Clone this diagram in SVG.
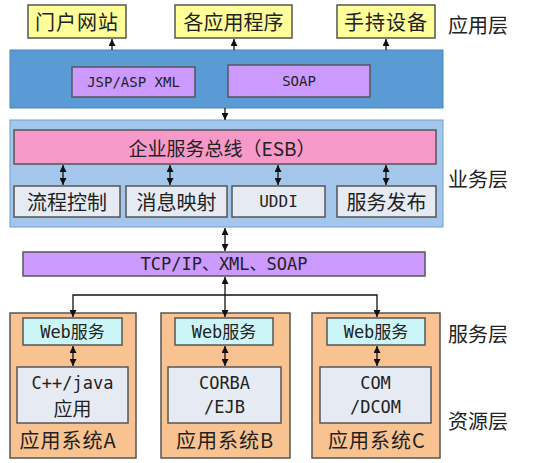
<svg xmlns="http://www.w3.org/2000/svg" width="558" height="463" viewBox="0 0 558 463">
<defs>
<marker id="ah" viewBox="0 0 8 8" refX="8" refY="4" markerWidth="7" markerHeight="7" markerUnits="userSpaceOnUse" orient="auto-start-reverse">
<path d="M0,0 L8,4 L0,8 z" fill="#111"/>
</marker>
<style>
.cn{font-family:"Noto Sans CJK SC","Noto Sans",sans-serif;fill:#222;text-anchor:middle;dominant-baseline:central}
.mono{font-family:"DejaVu Sans Mono","Noto Sans CJK SC",monospace;fill:#222;text-anchor:middle;dominant-baseline:central}
.b{stroke:#555;stroke-width:1.5}
.c{stroke:#111;stroke-width:1.3;fill:none}
.one{marker-end:url(#ah)}
.two{marker-start:url(#ah);marker-end:url(#ah)}
</style>
</defs>
<rect width="558" height="463" fill="#fff"/>

<g id="app-layer">
<g id="n-portal"><rect class="b" x="28" y="5" width="98" height="33" fill="#ffff99"/><text class="cn" x="77" y="21.5" font-size="20" letter-spacing="1">门户网站</text></g>
<g id="n-apps"><rect class="b" x="175" y="5" width="117" height="33" fill="#ffff99"/><text class="cn" x="233.5" y="21.5" font-size="20">各应用程序</text></g>
<g id="n-mobile"><rect class="b" x="337" y="5" width="98" height="33" fill="#ffff99"/><text class="cn" x="386" y="21.5" font-size="20" letter-spacing="1">手持设备</text></g>
<text class="cn" x="478" y="24" font-size="20">应用层</text>
</g>

<g id="n-presentation">
<rect x="10" y="50" width="433" height="58" fill="#5b9bd5" stroke="#4a86c0" stroke-width="1"/>
<g id="n-jsp"><rect class="b" x="72" y="67" width="123" height="30" fill="#cc99ff"/><text class="mono" x="133.5" y="82" font-size="14">JSP/ASP XML</text></g>
<g id="n-soap"><rect class="b" x="228" y="65" width="142" height="32" fill="#cc99ff"/><text class="mono" x="299" y="81" font-size="14">SOAP</text></g>
</g>

<g id="n-business">
<rect x="10" y="120" width="433" height="107" fill="#a3c6ea" stroke="#6f9fd0" stroke-width="1"/>
<g id="n-esb"><rect class="b" x="14" y="130" width="422" height="34" fill="#f799c8"/><text class="cn" x="222" y="147" font-size="19">企业服务总线（ESB）</text></g>
<g id="n-flow"><rect class="b" x="14" y="186" width="106" height="31" fill="#e6ebf3"/><text class="cn" x="67" y="201.5" font-size="20">流程控制</text></g>
<g id="n-msg"><rect class="b" x="126" y="186" width="101" height="31" fill="#e6ebf3"/><text class="cn" x="176.5" y="201.5" font-size="20">消息映射</text></g>
<g id="n-uddi"><rect class="b" x="232" y="186" width="93" height="31" fill="#e6ebf3"/><text class="mono" x="278.5" y="201.5" font-size="16">UDDI</text></g>
<g id="n-pub"><rect class="b" x="337" y="186" width="99" height="31" fill="#e6ebf3"/><text class="cn" x="386.5" y="201.5" font-size="20">服务发布</text></g>
<text class="cn" x="478" y="178" font-size="20">业务层</text>
</g>

<g id="n-tcp"><rect class="b" x="23" y="252" width="402" height="24" fill="#cc99ff"/><text class="mono" x="224" y="264" font-size="17">TCP/IP、XML、SOAP</text></g>

<g id="n-sysA">
<rect class="b" x="10" y="313" width="126" height="145" fill="#f9c291"/>
<g id="n-webA"><rect class="b" x="23" y="318" width="99" height="27" fill="#ccf5f7"/><text class="mono" x="72.5" y="331.5" font-size="17">Web服务</text></g>
<g id="n-innerA"><rect class="b" x="17" y="367" width="111" height="56" fill="#e6ebf3"/><text class="mono" x="72.5" y="383" font-size="17">C++/java</text><text class="cn" x="72.5" y="407" font-size="19">应用</text></g>
<text class="cn" x="68" y="439" font-size="20" letter-spacing="1">应用系统A</text>
</g>
<g id="n-sysB">
<rect class="b" x="161" y="313" width="129" height="145" fill="#f9c291"/>
<g id="n-webB"><rect class="b" x="175" y="318" width="98" height="27" fill="#ccf5f7"/><text class="mono" x="224" y="331.5" font-size="17">Web服务</text></g>
<g id="n-innerB"><rect class="b" x="168" y="367" width="113" height="56" fill="#e6ebf3"/><text class="mono" x="224.5" y="383" font-size="17">CORBA</text><text class="mono" x="224.5" y="407" font-size="17">/EJB</text></g>
<text class="cn" x="225" y="439" font-size="20" letter-spacing="1">应用系统B</text>
</g>
<g id="n-sysC">
<rect class="b" x="312" y="313" width="128" height="145" fill="#f9c291"/>
<g id="n-webC"><rect class="b" x="327" y="318" width="98" height="27" fill="#ccf5f7"/><text class="mono" x="376" y="331.5" font-size="17">Web服务</text></g>
<g id="n-innerC"><rect class="b" x="320" y="367" width="111" height="56" fill="#e6ebf3"/><text class="mono" x="375.5" y="383" font-size="17">COM</text><text class="mono" x="375.5" y="407" font-size="17">/DCOM</text></g>
<text class="cn" x="377" y="439" font-size="20" letter-spacing="1">应用系统C</text>
</g>
<text class="cn" x="478" y="333" font-size="20">服务层</text>
<text class="cn" x="478" y="420" font-size="20">资源层</text>

<g id="connectors">
<line class="c one" x1="112" y1="50" x2="112" y2="39"/>
<line class="c one" x1="234" y1="50" x2="234" y2="39"/>
<line class="c one" x1="386" y1="50" x2="386" y2="39"/>
<line class="c one" x1="225" y1="108" x2="225" y2="120"/>
<line class="c two" x1="63" y1="165" x2="63" y2="185"/>
<line class="c two" x1="170" y1="165" x2="170" y2="185"/>
<line class="c two" x1="278" y1="165" x2="278" y2="185"/>
<line class="c two" x1="386" y1="165" x2="386" y2="185"/>
<line class="c two" x1="225" y1="228" x2="225" y2="251"/>
<line class="c two" x1="225" y1="277" x2="225" y2="317"/>
<polyline class="c one" points="225,295 73,295 73,317"/>
<polyline class="c one" points="225,295 377,295 377,317"/>
<line class="c two" x1="73" y1="346" x2="73" y2="366"/>
<line class="c two" x1="225" y1="346" x2="225" y2="366"/>
<line class="c two" x1="377" y1="346" x2="377" y2="366"/>
</g>
</svg>
